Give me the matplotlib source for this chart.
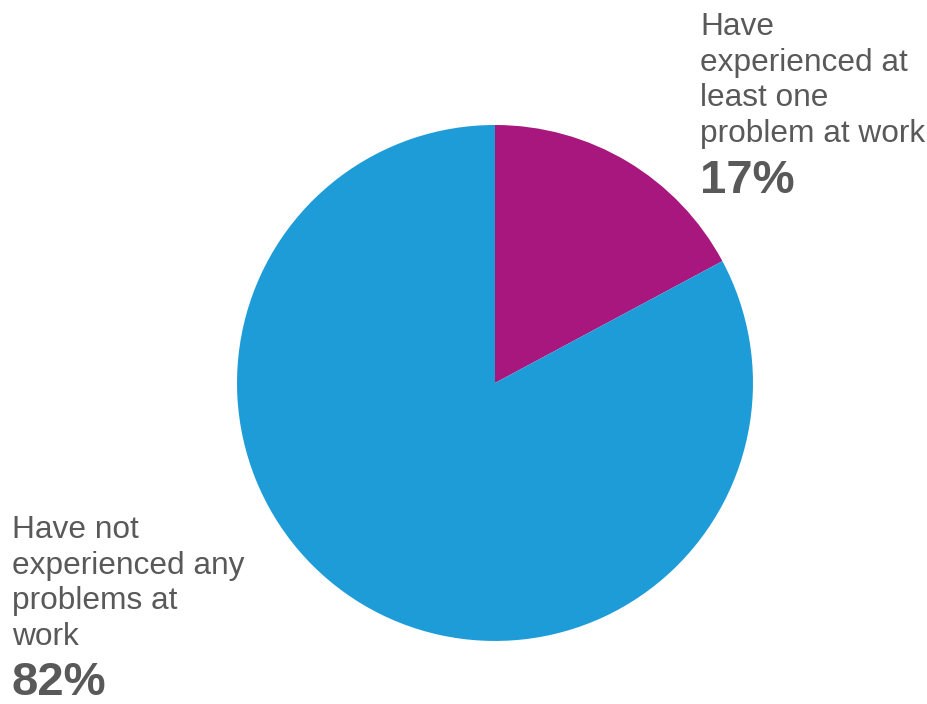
import matplotlib.pyplot as plt

# Share of respondents by work-problem experience
labels = ["Have\nexperienced at\nleast one\nproblem at work",
          "Have not\nexperienced any\nproblems at\nwork"]
values = [17, 82]
colors = ["#A8177E", "#1E9CD8"]

plt.rcParams['font.family'] = ['Liberation Sans', 'DejaVu Sans']
text_color = "#595959"

fig = plt.figure(figsize=(9.28, 7.04), dpi=100)
ax = fig.add_axes([0.2554, 0.0895, 0.556, 0.733])
ax.pie(values, colors=colors, startangle=90, counterclock=False,
       wedgeprops=dict(linewidth=0))
ax.set_xlim(-1, 1)
ax.set_ylim(-1, 1)
ax.set_aspect('equal')

# slice labels with percentages below them
fig.text(700 / 928, 1 - 12 / 704, labels[0], fontsize=22.8, color=text_color,
         ha='left', va='top', linespacing=1.25)
fig.text(700 / 928, 1 - 159 / 704, f"{values[0]}%", fontsize=34, fontweight='bold',
         color=text_color, ha='left', va='top')

fig.text(12 / 928, 1 - 515 / 704, labels[1], fontsize=22.8, color=text_color,
         ha='left', va='top', linespacing=1.25)
fig.text(12 / 928, 1 - 661 / 704, f"{values[1]}%", fontsize=34, fontweight='bold',
         color=text_color, ha='left', va='top')

fig.savefig("out.png", dpi=100)
